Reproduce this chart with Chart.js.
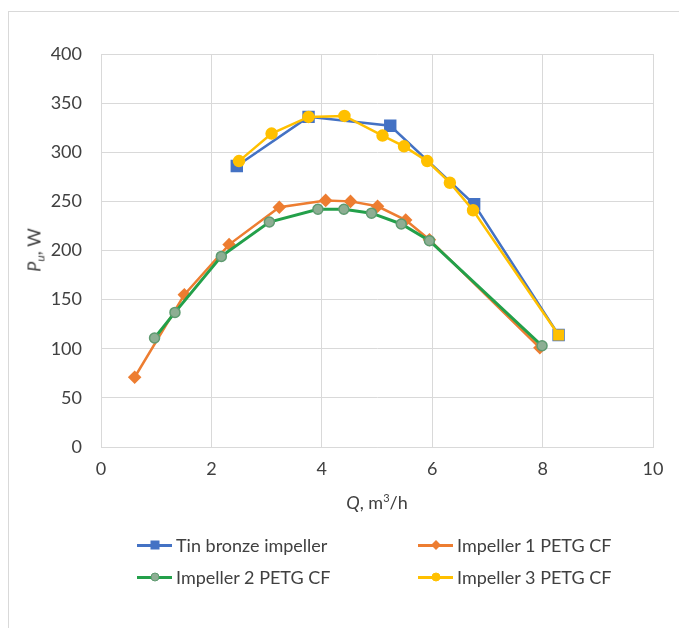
<!DOCTYPE html>
<html>
<head>
<meta charset="utf-8">
<script src="https://cdn.jsdelivr.net/npm/chart.js@4.4.1/dist/chart.umd.min.js"></script>
<style>
  body { margin: 0; background: #fff; font-family: Lato, sans-serif; }
  #wrap { position: relative; width: 679px; height: 628px; overflow: hidden; }
  #frame { position: absolute; left: 8px; top: 11px; right: -2px; bottom: -2px;
           border-left: 1px solid #d9d9d9; border-top: 1px solid #d9d9d9; }
  canvas { position: absolute; left: 0; top: 0; }
  .axis-title { position: absolute; font-size: 18px; color: #404040; white-space: nowrap; }
  #ytitle { left: 35px; top: 250px; transform: translate(-50%, -50%) rotate(-90deg); }
  #xtitle { left: 377px; top: 502px; transform: translate(-50%, -50%); }
  sup { font-size: 11px; vertical-align: 7px; }
  sub { font-size: 12px; vertical-align: -4px; }
  .legend-item { position: absolute; display: flex; align-items: center; font-size: 18px; color: #404040; white-space: nowrap; }
  .key { position: relative; width: 35px; height: 20px; margin-right: 4px; }
  .key .ln { position: absolute; left: 0; right: 0; top: 9px; height: 3px; }
  .key .mk { position: absolute; left: 50%; top: 50%; transform: translate(-50%, -50%); }
</style>
</head>
<body>
<div id="wrap">
  <div id="frame"></div>
  <canvas id="chart" width="679" height="628"></canvas>
  <div class="axis-title" id="ytitle"><i>P<sub>u</sub></i>, W</div>
  <div class="axis-title" id="xtitle"><i>Q</i>, m<sup>3</sup>/h</div>
  <div id="legend"></div>
</div>
<script>
// data (Q in m3/h, P_u in W)
const tinQ = [2.46, 3.76, 5.24, 6.76, 8.29];
const tinP = [286, 336, 327, 247, 114];

const imp1Q = [0.61, 1.51, 2.32, 3.23, 4.07, 4.52, 5.01, 5.52, 5.95, 7.95];
const imp1P = [71, 155, 206, 244, 251, 250, 245, 231, 211, 101];

const imp2Q = [0.97, 1.34, 2.18, 3.05, 3.93, 4.40, 4.90, 5.44, 5.95, 7.99];
const imp2P = [111, 137, 194, 229, 242, 242, 238, 227, 210, 103];

const imp3Q = [2.50, 3.09, 3.76, 4.41, 5.10, 5.49, 5.91, 6.32, 6.74, 8.29];
const imp3P = [291, 319, 336, 337, 317, 306, 291, 269, 241, 114];

const seriesNames = ["Tin bronze impeller", "Impeller 1 PETG CF", "Impeller 2 PETG CF", "Impeller 3 PETG CF"];

const xTicks = [0, 2, 4, 6, 8, 10];
const yTicks = [0, 50, 100, 150, 200, 250, 300, 350, 400];

const gridColor = "#d9d9d9";
const textColor = "#404040";

let toPoints = (xs, ys) => xs.map((x, i) => ({ x: x, y: ys[i] }));

const datasets = [
    {
        label: seriesNames[0],
        data: toPoints(tinQ, tinP),
        borderColor: "#4472C4",
        backgroundColor: "#4472C4",
        pointStyle: "rect",
        pointRadius: 7,
        borderWidth: 2.5,
        order: 4
    },
    {
        label: seriesNames[1],
        data: toPoints(imp1Q, imp1P),
        borderColor: "#ED7D31",
        backgroundColor: "#ED7D31",
        pointStyle: "rectRot",
        pointRadius: 5,
        borderWidth: 2.5,
        order: 3
    },
    {
        label: seriesNames[2],
        data: toPoints(imp2Q, imp2P),
        borderColor: "#23A04A",
        backgroundColor: "#8DAE93",
        pointBorderColor: "#5E9A70",
        pointStyle: "circle",
        pointRadius: 5,
        pointBorderWidth: 1.5,
        borderWidth: 3,
        order: 2
    },
    {
        label: seriesNames[3],
        data: toPoints(imp3Q, imp3P),
        borderColor: "#FFC000",
        backgroundColor: "#FFC000",
        // last marker is drawn as a square in the original
        pointStyle: imp3Q.map((q, i) => i === imp3Q.length - 1 ? "rect" : "circle"),
        pointRadius: imp3Q.map((q, i) => i === imp3Q.length - 1 ? 6 : 5),
        borderWidth: 2.5,
        order: 1
    }
];

const myChart = new Chart(document.getElementById("chart"), {
    type: "scatter",
    data: { datasets: datasets.map(d => ({ ...d, showLine: true, tension: 0 })) },
    options: {
        responsive: false,
        animation: false,
        layout: { padding: { left: 8, top: 54, right: 26, bottom: 141 } },
        plugins: { legend: { display: false }, tooltip: { enabled: false } },
        scales: {
            x: {
                type: "linear",
                min: xTicks[0],
                max: xTicks[xTicks.length - 1],
                afterBuildTicks: (scale) => { scale.ticks = xTicks.map(v => ({ value: v })); },
                afterFit: (scale) => { scale.height = 40; },
                grid: { color: gridColor, drawTicks: false },
                border: { color: gridColor },
                ticks: { color: textColor, padding: 11, font: { family: "Lato", size: 18 } }
            },
            y: {
                type: "linear",
                min: yTicks[0],
                max: yTicks[yTicks.length - 1],
                afterBuildTicks: (scale) => { scale.ticks = yTicks.map(v => ({ value: v })); },
                afterFit: (scale) => { scale.width = 93; },
                grid: { color: gridColor, drawTicks: false },
                border: { color: gridColor },
                ticks: { color: textColor, padding: 19, font: { family: "Lato", size: 18 } }
            }
        }
    }
});

// legend laid out 2 x 2 like the original
const legendPos = [[137, 545], [418, 545], [137, 577], [418, 577]];
const legendBox = document.getElementById("legend");
datasets.forEach((d, i) => {
    const item = document.createElement("div");
    item.className = "legend-item";
    item.style.left = legendPos[i][0] + "px";
    item.style.top = (legendPos[i][1] - 11) + "px";
    const key = document.createElement("span");
    key.className = "key";
    const ln = document.createElement("span");
    ln.className = "ln";
    ln.style.background = d.borderColor;
    const mk = document.createElement("span");
    mk.className = "mk";
    if (d.pointStyle === "rect") {
        mk.style.cssText += "width:9px;height:9px;background:" + d.backgroundColor;
    } else if (d.pointStyle === "rectRot") {
        mk.style.cssText += "width:7px;height:7px;background:" + d.backgroundColor + ";transform:translate(-50%,-50%) rotate(45deg)";
    } else {
        const bc = d.pointBorderColor || d.backgroundColor;
        mk.style.cssText += "width:7px;height:7px;border-radius:50%;background:" + d.backgroundColor + ";border:1.5px solid " + bc;
    }
    key.appendChild(ln);
    key.appendChild(mk);
    const txt = document.createElement("span");
    txt.textContent = d.label;
    item.appendChild(key);
    item.appendChild(txt);
    legendBox.appendChild(item);
});
</script>
</body>
</html>
